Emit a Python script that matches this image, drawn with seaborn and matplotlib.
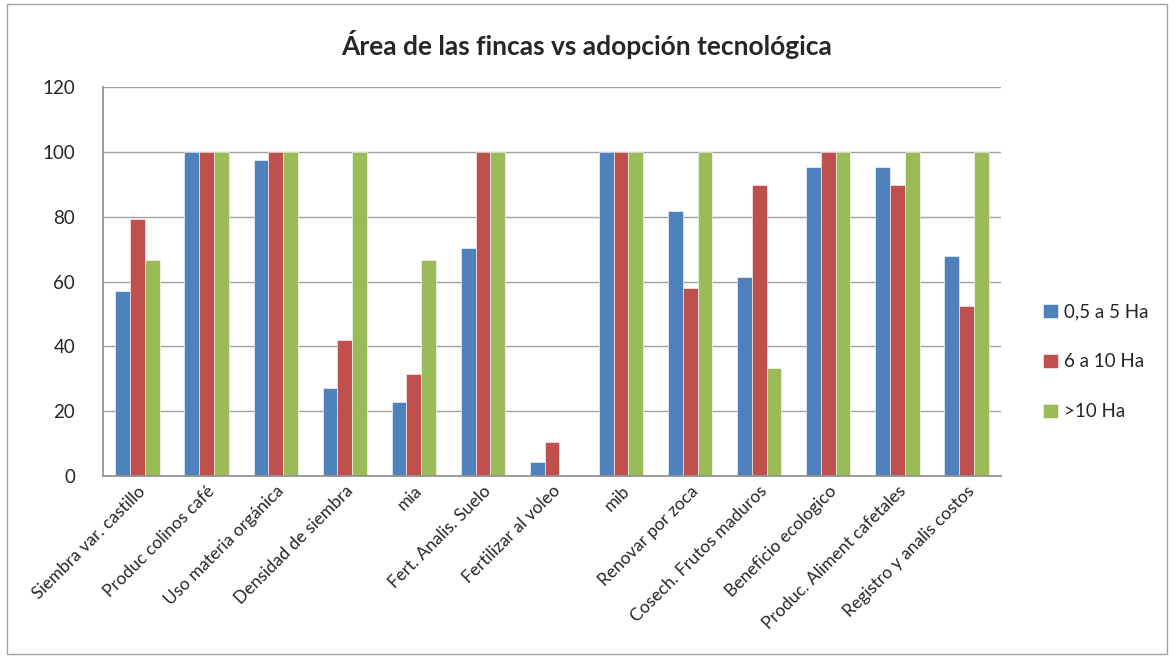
import numpy as np
import pandas as pd
import matplotlib
matplotlib.use("Agg")
import matplotlib.pyplot as plt
import seaborn as sns

categorias = ["Siembra var. castillo", "Produc colinos café", "Uso materia orgánica",
              "Densidad de siembra", "mia", "Fert. Analis. Suelo", "Fertilizar al voleo",
              "mib", "Renovar por zoca", "Cosech. Frutos maduros", "Beneficio ecologico",
              "Produc. Aliment cafetales", "Registro y analis costos"]
grupos = ["0,5 a 5 Ha", "6 a 10 Ha", ">10 Ha"]
pequenas = [57.1, 100, 97.6, 27.0, 22.7, 70.3, 4.3, 100, 81.9, 61.4, 95.3, 95.3, 68.0]
medianas = [79.2, 100, 100, 42.0, 31.5, 100, 10.4, 100, 58.1, 89.7, 100, 89.7, 52.6]
grandes = [66.7, 100, 100, 100, 66.7, 100, 0, 100, 100, 33.3, 100, 100, 100]
colores = ["#4F81BD", "#C0504D", "#9BBB59"]

df = pd.DataFrame({
    "tecnologia": categorias * 3,
    "area": [grupos[0]] * 13 + [grupos[1]] * 13 + [grupos[2]] * 13,
    "valor": pequenas + medianas + grandes,
})

sns.set_theme(style="white")
plt.rcParams["font.family"] = ["Lato", "DejaVu Sans"]

fig = plt.figure(figsize=(11.74, 6.58), dpi=100)
ax = fig.add_axes([0.0877, 0.2766, 0.765, 0.591])

sns.barplot(data=df, x="tecnologia", y="valor", hue="area", palette=colores,
            width=0.64, gap=0, saturation=1, ax=ax, edgecolor="white", linewidth=0.4)

ax.set_ylim(0, 120)
ax.set_yticks(range(0, 121, 20))
ax.set_xlim(-0.5, len(categorias) - 0.5)
ax.yaxis.grid(True, color="#a0a0a0", linewidth=1)
ax.set_axisbelow(True)
ax.set_xlabel("")
ax.set_ylabel("")
for s in ["top", "right"]:
    ax.spines[s].set_visible(False)
for s in ["left", "bottom"]:
    ax.spines[s].set_color("#909090")
ax.tick_params(axis="y", labelsize=13.5, length=0, pad=20)
ax.tick_params(axis="x", labelsize=12.5, length=0, pad=5)
plt.setp(ax.get_xticklabels(), rotation=45, ha="right", rotation_mode="anchor")

ax.legend(loc="center left", bbox_to_anchor=(0.882, 0.45), bbox_transform=fig.transFigure,
          frameon=False, fontsize=13.5, labelspacing=1.75, handlelength=0.8,
          handleheight=0.8, handletextpad=0.3, borderaxespad=0)

fig.suptitle("Área de las fincas vs adopción tecnológica", y=0.955,
             fontsize=19, fontweight="bold")

border = plt.Rectangle((0.006, 0.006), 0.988, 0.988, transform=fig.transFigure,
                       fill=False, edgecolor="#a0a0a0", linewidth=1)
fig.patches.append(border)

fig.savefig("out.png", dpi=100)
